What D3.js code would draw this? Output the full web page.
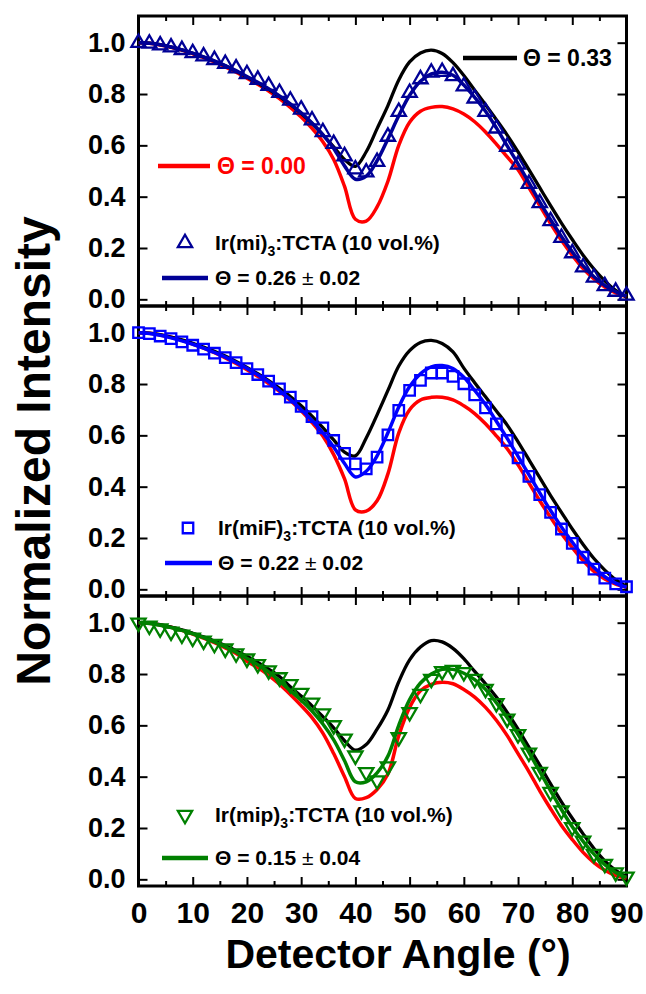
<!DOCTYPE html>
<html lang="en">
<head>
    <meta charset="UTF-8">
    <title>Angular dependent PL</title>
    <script src="https://d3js.org/d3.v7.min.js"></script>
    <style>
        body { margin: 0; background: #fff; }
        text { font-family: "Liberation Sans", Arial, sans-serif; font-weight: bold; }
    </style>
</head>
<body>
<svg id="chart" width="646" height="994"></svg>
<script>
    // detector angles of the measured points and of the simulated curves
    const angles = [0, 2, 4, 6, 8, 10, 12, 14, 16, 18, 20, 22, 24, 26, 28, 30, 32, 34, 36, 38, 40, 42, 44,
        46, 48, 50, 52, 54, 56, 58, 60, 62, 64, 66, 68, 70, 72, 74, 76, 78, 80, 82, 84, 86, 88, 90];

    // Ir(mi)3:TCTA
    const miData = [1.0, .997, .99, .982, .972, .96, .947, .933, .918, .9, .878, .856, .832, .805, .775, .74, .698, .652, .606, .558,
        .507, .495, .536, .634, .731, .805, .858, .884, .887, .87, .83, .783, .731, .666, .595, .525, .45, .375, .305, .24,
        .18, .125, .085, .052, .03, .015];
    const miFit = [1.0, .998, .992, .983, .972, .959, .945, .929, .911, .891, .868, .846, .821, .793, .762, .727, .687, .642, .588, .52,
        .468, .48, .54, .625, .715, .795, .85, .878, .885, .873, .835, .787, .733, .668, .598, .528, .455, .38, .31, .245,
        .185, .13, .088, .054, .03, .012];
    const miIso = [1.0, .998, .992, .983, .972, .959, .944, .928, .91, .889, .866, .843, .818, .79, .759, .724, .685, .641, .594, .545,
        .518, .575, .665, .755, .855, .925, .96, .971, .958, .922, .872, .815, .758, .7, .64, .575, .505, .435, .365, .297,
        .233, .172, .118, .072, .035, .01];
    const miHor = [1.0, .998, .991, .982, .971, .957, .942, .925, .906, .885, .862, .838, .812, .782, .748, .71, .666, .614, .545, .44,
        .312, .305, .36, .46, .6, .69, .733, .748, .751, .742, .722, .692, .652, .605, .555, .505, .435, .365, .295, .23,
        .172, .12, .08, .048, .025, .01];

    // Ir(miF)3:TCTA
    const miFData = [1.0, .996, .987, .977, .964, .951, .936, .92, .903, .883, .86, .837, .811, .781, .749, .713, .673, .629, .58, .53,
        .489, .469, .515, .602, .697, .775, .814, .843, .843, .83, .801, .758, .707, .645, .58, .512, .44, .369, .3, .235,
        .179, .125, .079, .044, .021, .01];
    const miFFit = [1.0, .997, .99, .98, .968, .955, .94, .923, .905, .884, .861, .836, .809, .775, .74, .7, .658, .61, .555, .49,
        .438, .46, .52, .61, .71, .79, .84, .867, .872, .86, .826, .775, .72, .655, .588, .518, .447, .376, .307, .243,
        .184, .13, .085, .049, .024, .008];
    const miFIso = [1.0, .998, .992, .983, .972, .959, .944, .928, .909, .888, .865, .84, .813, .783, .751, .715, .675, .63, .582, .535,
        .52, .59, .68, .775, .87, .93, .962, .97, .958, .925, .862, .805, .75, .695, .64, .575, .505, .435, .365, .3,
        .235, .175, .12, .075, .038, .012];
    const miFHor = [1.0, .998, .991, .982, .97, .956, .94, .922, .902, .88, .856, .83, .802, .771, .736, .696, .65, .597, .525, .43,
        .31, .305, .345, .45, .61, .7, .738, .748, .748, .738, .715, .685, .645, .598, .548, .485, .415, .345, .28, .218,
        .163, .112, .07, .04, .02, .008];

    // Ir(mip)3:TCTA
    const mipData = [1.0, .988, .977, .965, .953, .941, .93, .917, .899, .88, .86, .838, .814, .787, .76, .726, .688, .646, .6, .548,
        .482, .417, .385, .44, .554, .651, .722, .781, .811, .816, .807, .781, .742, .686, .626, .565, .493, .418, .34, .268,
        .203, .15, .099, .06, .027, .01];
    const mipFit = [1.0, .997, .99, .981, .97, .957, .942, .925, .906, .885, .861, .836, .808, .773, .735, .698, .656, .605, .543, .462,
        .38, .38, .415, .48, .6, .7, .765, .8, .818, .818, .803, .778, .74, .688, .63, .565, .495, .42, .345, .272,
        .205, .148, .098, .057, .027, .008];
    const mipIso = [1.0, .998, .992, .983, .972, .959, .945, .929, .911, .891, .869, .845, .819, .79, .75, .714, .676, .634, .59, .54,
        .503, .525, .585, .66, .77, .855, .905, .93, .925, .9, .86, .81, .762, .71, .65, .585, .515, .445, .372, .302,
        .238, .177, .12, .072, .035, .01];
    const mipHor = [1.0, .998, .991, .982, .97, .956, .94, .922, .902, .88, .85, .825, .795, .76, .72, .677, .63, .57, .49, .4,
        .315, .318, .35, .41, .56, .67, .735, .76, .768, .762, .74, .71, .67, .62, .56, .49, .42, .345, .275, .21,
        .155, .105, .065, .035, .015, .005];

    const xTicks = [0, 10, 20, 30, 40, 50, 60, 70, 80, 90];
    const xMinor = [5, 15, 25, 35, 45, 55, 65, 75, 85];
    const yTicks = [0, 0.2, 0.4, 0.6, 0.8, 1.0];

    const panels = [
        {data: miData, fit: miFit, iso: miIso, hor: miHor, color: "#000096", symbol: "up",
            host: "Ir(mi)", fitText: "0.26", err: "0.02",
            leg: {markX: 185, textX: 215, lineX: [162, 208], markY: 227, fitY: 262}},
        {data: miFData, fit: miFFit, iso: miFIso, hor: miFHor, color: "#0000ff", symbol: "square",
            host: "Ir(miF)", fitText: "0.22", err: "0.02",
            leg: {markX: 188, textX: 218, lineX: [165, 212], markY: 222, fitY: 257}},
        {data: mipData, fit: mipFit, iso: mipIso, hor: mipHor, color: "#008000", symbol: "down",
            host: "Ir(mip)", fitText: "0.15", err: "0.04",
            leg: {markX: 185, textX: 215, lineX: [162, 208], markY: 219, fitY: 262}}
    ];

    var svg = d3.select("#chart");
    var left = 138.5, right = 626.5, panelH = 290, firstTop = 16;
    var x = d3.scaleLinear().domain([0, 90]).range([left, right]);

    function markerPath(kind) {
        if (kind === "square") return d3.symbol(d3.symbolSquare, 110)();
        return d3.symbol(d3.symbolTriangle, 88)();
    }

    function drawMarker(g, kind, color, cx, cy) {
        g.append("path")
            .attr("d", markerPath(kind))
            .attr("transform", "translate(" + cx + "," + cy + ")" + (kind === "down" ? " rotate(180)" : ""))
            .attr("fill", "none")
            .attr("stroke", color)
            .attr("stroke-width", 2.3);
    }

    function styleAxis(g, size) {
        g.select(".domain").remove();
        g.selectAll(".tick line").attr("stroke", "#000").attr("stroke-width", 2);
        g.attr("font-family", null).attr("font-size", size);
        g.selectAll("text").attr("fill", "#000");
    }

    panels.forEach(function (p, i) {
        var top = firstTop + i * panelH;
        var y = d3.scaleLinear().domain([-0.026, 1.104]).range([top + panelH, top]);
        var g = svg.append("g");

        var line = d3.line()
            .x(function (d, k) { return x(angles[k]); })
            .y(function (d) { return y(d); })
            .curve(d3.curveCatmullRom.alpha(0.5));

        // axes (ticks pointing inwards)
        var bottom = g.append("g").attr("transform", "translate(0," + (top + panelH) + ")")
            .call(d3.axisBottom(x).tickValues(xTicks).tickSize(-9).tickPadding(16)
                .tickFormat(i === 2 ? d3.format("d") : ""));
        styleAxis(bottom, 30);
        styleAxis(g.append("g").attr("transform", "translate(0," + (top + panelH) + ")")
            .call(d3.axisBottom(x).tickValues(xMinor).tickSize(-5).tickFormat("")), 10);
        styleAxis(g.append("g").attr("transform", "translate(0," + top + ")")
            .call(d3.axisTop(x).tickValues(xTicks).tickSize(-9).tickFormat("")), 10);
        styleAxis(g.append("g").attr("transform", "translate(0," + top + ")")
            .call(d3.axisTop(x).tickValues(xMinor).tickSize(-5).tickFormat("")), 10);
        styleAxis(g.append("g").attr("transform", "translate(" + left + ",0)")
            .call(d3.axisLeft(y).tickValues(yTicks).tickSize(-9).tickPadding(13).tickFormat(d3.format(".1f"))), 27);
        styleAxis(g.append("g").attr("transform", "translate(" + right + ",0)")
            .call(d3.axisRight(y).tickValues(yTicks).tickSize(-9).tickFormat("")), 10);

        g.append("rect")
            .attr("x", left).attr("y", top)
            .attr("width", right - left).attr("height", panelH)
            .attr("fill", "none").attr("stroke", "#000").attr("stroke-width", 3);

        // simulated curves
        g.append("path").datum(p.hor).attr("d", line)
            .attr("fill", "none").attr("stroke", "#ff0000").attr("stroke-width", 3.5);
        g.append("path").datum(p.iso).attr("d", line)
            .attr("fill", "none").attr("stroke", "#000").attr("stroke-width", 3.3);
        g.append("path").datum(p.fit).attr("d", line)
            .attr("fill", "none").attr("stroke", p.color).attr("stroke-width", 3.5);

        // measured points
        p.data.forEach(function (v, k) {
            drawMarker(g, p.symbol, p.color, x(angles[k]), y(v));
        });

        // legend
        var L = p.leg;
        drawMarker(g, p.symbol, p.color, L.markX, top + L.markY);
        var t = g.append("text").attr("x", L.textX).attr("y", top + L.markY).attr("dy", "0.35em")
            .attr("font-size", 21).attr("fill", "#000");
        t.append("tspan").text(p.host);
        t.append("tspan").attr("dy", 6).attr("font-size", 14).text("3");
        t.append("tspan").attr("dy", -6).text(":TCTA (10 vol.%)");

        g.append("line").attr("x1", L.lineX[0]).attr("x2", L.lineX[1])
            .attr("y1", top + L.fitY).attr("y2", top + L.fitY)
            .attr("stroke", p.color).attr("stroke-width", 4.5);
        var f = g.append("text").attr("x", L.textX).attr("y", top + L.fitY).attr("dy", "0.35em")
            .attr("font-size", 21).attr("fill", "#000");
        f.append("tspan").text("\u0398 = " + p.fitText + " ");
        f.append("tspan").attr("font-weight", "normal").text("\u00b1");
        f.append("tspan").text(" " + p.err);

        if (i === 0) {
            g.append("line").attr("x1", 158).attr("x2", 210).attr("y1", top + 150).attr("y2", top + 150)
                .attr("stroke", "#ff0000").attr("stroke-width", 4.5);
            g.append("text").attr("x", 217).attr("y", top + 150).attr("dy", "0.35em")
                .attr("font-size", 23).attr("fill", "#ff0000").text("\u0398 = 0.00");
            g.append("line").attr("x1", 463).attr("x2", 517).attr("y1", top + 42).attr("y2", top + 42)
                .attr("stroke", "#000").attr("stroke-width", 4.5);
            g.append("text").attr("x", 523).attr("y", top + 42).attr("dy", "0.35em")
                .attr("font-size", 23).attr("fill", "#000").text("\u0398 = 0.33");
        }
    });

    // axis titles
    svg.append("text")
        .attr("x", 398).attr("y", 968)
        .attr("text-anchor", "middle")
        .attr("font-size", 41)
        .text("Detector Angle (\u00b0)");

    svg.append("text")
        .attr("transform", "translate(50,451) rotate(-90)")
        .attr("text-anchor", "middle")
        .attr("font-size", 48)
        .text("Normalized Intensity");
</script>
</body>
</html>
